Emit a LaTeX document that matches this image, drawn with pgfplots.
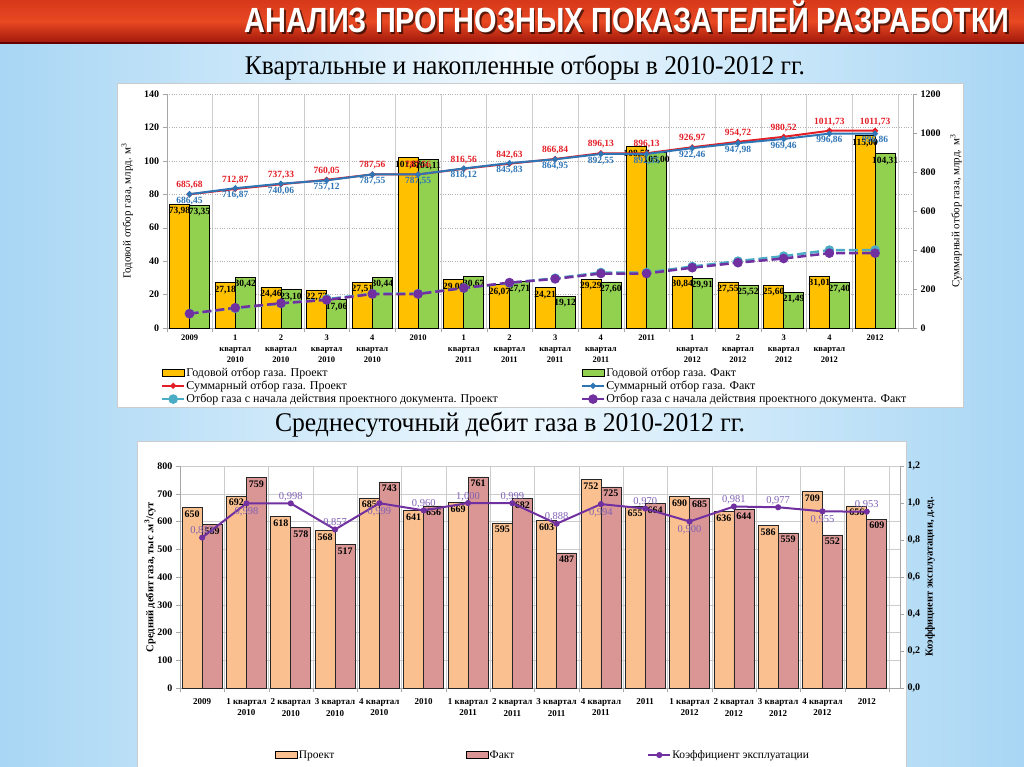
\documentclass[border=0pt]{standalone}
\usepackage{fontspec}
\setmainfont{Liberation Serif}
\newfontfamily\headfont{Liberation Sans}
\usepackage{graphicx}
\usepackage{pgfplots}
\usepackage{pgfplotstable}
\pgfplotsset{compat=1.18}

\definecolor{gyel}{RGB}{255,192,0}
\definecolor{ggrn}{RGB}{146,208,80}
\definecolor{lred}{RGB}{228,30,38}
\definecolor{lblue}{RGB}{46,117,182}
\definecolor{lteal}{RGB}{75,172,198}
\definecolor{lpurp}{RGB}{112,48,160}
\definecolor{kpurp}{RGB}{128,96,180}
\definecolor{bpro}{RGB}{250,192,144}
\definecolor{bfak}{RGB}{217,150,148}
\definecolor{bgblue}{RGB}{168,214,244}
\definecolor{bgmid}{RGB}{238,248,254}

\pgfplotsset{
  /pgf/number format/assume math mode=true,
  /pgf/number format/1000 sep={},
  rectleg/.style={legend image code/.code={\draw[##1] (0pt,-3.5pt) rectangle (22pt,3.5pt);}},
  lineleg/.style={legend image code/.code={\draw[mark repeat=2,mark phase=2,##1] plot coordinates {(0pt,0pt) (11pt,0pt) (22pt,0pt)};}},
  lab2/.style={point meta=y, nodes near coords={\pgfmathprintnumber[fixed,fixed zerofill,precision=2,use comma,1000 sep={}]{\pgfplotspointmeta}}},
  lab0/.style={point meta=y, nodes near coords={\pgfmathprintnumber[fixed,precision=0,1000 sep={}]{\pgfplotspointmeta}}},
  lab3/.style={point meta=y, nodes near coords={\pgfmathprintnumber[fixed,fixed zerofill,precision=3,use comma]{\pgfplotspointmeta}}},
}

% quarterly and cumulative gas
\pgfplotstableread{
x proj fact sump sumf cump cumf
0 73.98 73.35 685.68 686.45 73.98 73.35
1 27.18 30.42 712.87 716.87 101.16 103.77
2 24.46 23.10 737.33 740.06 125.62 126.87
3 22.72 17.06 760.05 757.12 148.34 143.93
4 27.51 30.44 787.56 787.55 175.85 174.37
5 101.87 101.11 787.56 787.55 175.85 174.37
6 29.06 30.67 816.56 818.12 204.91 205.04
7 26.07 27.71 842.63 845.83 230.98 232.75
8 24.21 19.12 866.84 864.95 255.19 251.87
9 29.29 27.60 896.13 892.55 284.48 279.47
10 108.57 105.00 896.13 892.55 284.48 279.47
11 30.84 29.91 926.97 922.46 315.32 309.38
12 27.55 25.52 954.72 947.98 342.87 334.90
13 25.60 21.49 980.52 969.46 368.47 356.39
14 31.01 27.40 1011.73 996.86 399.48 383.79
15 115.00 104.31 1011.73 996.86 399.48 383.79
}\gas

% daily rate
\pgfplotstableread{
x proj fact k
0 650 589 0.813
1 692 759 0.998
2 618 578 0.998
3 568 517 0.857
4 685 743 0.999
5 641 656 0.960
6 669 761 1.000
7 595 682 0.999
8 603 487 0.888
9 752 725 0.994
10 655 664 0.970
11 690 685 0.900
12 636 644 0.981
13 586 559 0.977
14 709 552 0.955
15 656 609 0.953
}\rate

\begin{document}
\begin{tikzpicture}[x=1pt,y=1pt]
\path[use as bounding box] (0,0) rectangle (1024,-767);
% background
\shade[left color=bgblue, right color=bgblue, middle color=bgmid] (0,0) rectangle (1024,-767);
\shade[top color={rgb,255:red,214;green,56;blue,26}, bottom color={rgb,255:red,160;green,24;blue,10}, middle color={rgb,255:red,232;green,72;blue,34}] (0,0) rectangle (1024,-43);
\fill[black!60!red] (0,-42) rectangle (1024,-44);
\node[anchor=base east, inner sep=0, text=black, opacity=0.6] at (1011.5,-34.5) {\resizebox{765pt}{\height}{\headfont\bfseries\fontsize{35}{35}\selectfont АНАЛИЗ ПРОГНОЗНЫХ ПОКАЗАТЕЛЕЙ РАЗРАБОТКИ}};
\node[anchor=base east, inner sep=0, text=white] at (1010,-33) {\resizebox{765pt}{\height}{\headfont\bfseries\fontsize{35}{35}\selectfont АНАЛИЗ ПРОГНОЗНЫХ ПОКАЗАТЕЛЕЙ РАЗРАБОТКИ}};
\node[anchor=base, inner sep=0] at (525,-75) {\resizebox{560pt}{\height}{\fontsize{27}{27}\selectfont Квартальные и накопленные отборы в 2010-2012 гг.}};
\node[anchor=base, inner sep=0] at (510,-431) {\resizebox{470pt}{\height}{\fontsize{27}{27}\selectfont Среднесуточный дебит газа в 2010-2012 гг.}};
% panels
\filldraw[fill=white, draw=gray!40] (117,-83) rectangle (963,-407);
\filldraw[fill=white, draw=gray!40] (137,-441) rectangle (906,-767);

% ---------- chart 1 ----------
\begin{axis}[
  at={(166.7pt,-328pt)}, anchor=south west,
  scale only axis, width=746.3pt, height=234pt,
  xmin=-0.5, xmax=15.83, ymin=0, ymax=140,
  axis x line*=bottom, axis y line*=left,
  axis line style={draw=gray!70,-},
  ytick={0,20,...,140},
  xtick={0,...,15},
  xticklabels={2009,{1\\квартал\\2010},{2\\квартал\\2010},{3\\квартал\\2010},{4\\квартал\\2010},2010,
    {1\\квартал\\2011},{2\\квартал\\2011},{3\\квартал\\2011},{4\\квартал\\2011},2011,
    {1\\квартал\\2012},{2\\квартал\\2012},{3\\квартал\\2012},{4\\квартал\\2012},2012},
  xticklabel style={align=center, anchor=north, font=\fontsize{8.5}{11}\selectfont\bfseries, yshift=-2pt, inner sep=1pt},
  yticklabel style={font=\fontsize{10}{12}\selectfont\bfseries},
  minor xtick={-0.5,0.5,...,15.5},
  major x tick style={draw=none},
  tick style={gray!70},
  tick align=outside, major tick length=4pt, minor tick length=4pt,
  ymajorgrids, xminorgrids,
  major grid style={gray!60, dotted},
  minor grid style={gray!40},
  ylabel={Годовой отбор газа, млрд. м\textsuperscript{3}},
  ylabel style={at={(axis description cs:-0.053,0.5)}, anchor=center, font=\fontsize{11}{13}\selectfont},
  every node near coord/.append style={font=\fontsize{9.5}{11}\selectfont\bfseries, anchor=north, inner sep=1pt, yshift=-2pt, text=black},
]
\addplot[ybar, bar width=20pt, bar shift=-10pt, fill=gyel, draw=black, line width=0.6pt, lab2,
  every node near coord/.append style={xshift=-10pt}] table[x=x,y=proj]{\gas};
\addplot[ybar, bar width=20pt, bar shift=10pt, fill=ggrn, draw=black, line width=0.6pt, lab2,
  every node near coord/.append style={xshift=10pt}] table[x=x,y=fact]{\gas};
\end{axis}

\begin{axis}[
  at={(166.7pt,-328pt)}, anchor=south west,
  scale only axis, width=746.3pt, height=234pt,
  xmin=-0.5, xmax=15.83, ymin=0, ymax=1200,
  axis y line*=right, axis x line=none,
  axis line style={draw=gray!70,-},
  ytick={0,200,...,1200},
  tick style={gray!70}, tick align=outside, major tick length=4pt,
  yticklabel style={font=\fontsize{10}{12}\selectfont\bfseries},
  ylabel={Суммарный отбор газа, млрд. м\textsuperscript{3}},
  ylabel style={at={(axis description cs:1.0576,0.5)}, anchor=center, font=\fontsize{11}{13}\selectfont},
  every node near coord/.append style={font=\fontsize{9.5}{11}\selectfont\bfseries, inner sep=1pt},
  legend columns=2,
  legend cell align=left,
  legend style={at={(axis description cs:-0.012,-0.155)}, anchor=north west, draw=none, fill=none,
    font=\fontsize{12}{13}\selectfont, nodes={inner sep=1pt}, row sep=1.2pt,
    /tikz/every even column/.append style={column sep=82pt}},
]
\addlegendimage{rectleg, fill=gyel, draw=black}
\addlegendentry{Годовой отбор газа. Проект}
\addlegendimage{rectleg, fill=ggrn, draw=black}
\addlegendentry{Годовой отбор газа. Факт}
\addplot[lred, line width=2pt, mark=*, mark size=1.8pt, lineleg, lab2,
  every node near coord/.append style={anchor=south, yshift=3pt, text=lred}] table[x=x,y=sump]{\gas};
\addlegendentry{Суммарный отбор газа. Проект}
\addplot[lblue, line width=2pt, mark=*, mark size=1.8pt, lineleg, lab2,
  every node near coord/.append style={anchor=north, yshift=-1pt, text=lblue}] table[x=x,y=sumf]{\gas};
\addlegendentry{Суммарный отбор газа. Факт}
\addplot[lteal, line width=2.5pt, dash pattern=on 9pt off 4pt, mark=*, mark size=3.5pt, mark options={solid}, lineleg] table[x=x,y=cump]{\gas};
\addlegendentry{Отбор газа с начала действия проектного документа. Проект}
\addplot[lpurp, line width=2.5pt, dash pattern=on 9pt off 4pt, mark=*, mark size=3.5pt, mark options={solid}, lineleg] table[x=x,y=cumf]{\gas};
\addlegendentry{Отбор газа с начала действия проектного документа. Факт}
\end{axis}

% ---------- chart 2 ----------
\begin{axis}[
  at={(180pt,-688pt)}, anchor=south west,
  scale only axis, width=720pt, height=222pt,
  xmin=-0.5, xmax=15.75, ymin=0, ymax=800,
  axis x line*=bottom, axis y line*=left,
  axis line style={draw=gray!70,-},
  ytick={0,100,...,800},
  xtick={0,...,15},
  xticklabels={2009,{1 квартал\\2010},{2 квартал\\2010},{3 квартал\\2010},{4 квартал\\2010},2010,
    {1 квартал\\2011},{2 квартал\\2011},{3 квартал\\2011},{4 квартал\\2011},2011,
    {1 квартал\\2012},{2 квартал\\2012},{3 квартал\\2012},{4 квартал\\2012},2012},
  xticklabel style={align=center, anchor=north, font=\fontsize{9}{11.5}\selectfont\bfseries, yshift=-3pt},
  yticklabel style={font=\fontsize{10}{12}\selectfont\bfseries},
  minor xtick={-0.5,0.5,...,15.5},
  major x tick style={draw=none},
  tick style={gray!70},
  tick align=outside, major tick length=4pt, minor tick length=4pt,
  ymajorgrids, xminorgrids,
  major grid style={gray!40},
  minor grid style={gray!40},
  ylabel={\bfseries Средний дебит газа, тыс .м\textsuperscript{3}/сут},
  ylabel style={at={(axis description cs:-0.0417,0.5)}, anchor=center, font=\fontsize{10.5}{12}\selectfont},
  every node near coord/.append style={font=\fontsize{10}{11}\selectfont\bfseries, anchor=north, inner sep=1pt, yshift=-2pt, text=black},
]
\addplot[ybar, bar width=20pt, bar shift=-10pt, fill=bpro, draw=black!85, line width=0.6pt, lab0,
  every node near coord/.append style={xshift=-10pt}] table[x=x,y=proj]{\rate};
\addplot[ybar, bar width=20pt, bar shift=10pt, fill=bfak, draw=black!85, line width=0.6pt, lab0,
  every node near coord/.append style={xshift=10pt}] table[x=x,y=fact]{\rate};
\end{axis}

\begin{axis}[
  at={(180pt,-688pt)}, anchor=south west,
  scale only axis, width=720pt, height=222pt,
  xmin=-0.5, xmax=15.75, ymin=0, ymax=1.2,
  axis y line*=right, axis x line=none,
  axis line style={draw=gray!70,-},
  ytick={0,0.2,0.4,0.6,0.8,1.0,1.2},
  yticklabel={\pgfmathprintnumber[fixed,fixed zerofill,precision=1,use comma]{\tick}},
  tick style={gray!70}, tick align=outside, major tick length=4pt,
  yticklabel style={font=\fontsize{10}{12}\selectfont\bfseries},
  ylabel={\bfseries Коэффициент эксплуатации, д.ед.},
  ylabel style={at={(axis description cs:1.0417,0.5)}, anchor=center, font=\fontsize{10.5}{12}\selectfont},
  every node near coord/.append style={font=\fontsize{10.5}{12}\selectfont, inner sep=1pt, text=kpurp},
  legend columns=3,
  legend cell align=left,
  legend style={at={(axis description cs:0.128,-0.302)}, anchor=west, draw=none, fill=none,
    font=\fontsize{11.5}{13}\selectfont, nodes={inner sep=1pt},
    /tikz/column 2/.style={column sep=131pt}, /tikz/column 4/.style={column sep=132pt}},
]
\addlegendimage{rectleg, fill=bpro, draw=black}
\addlegendentry{Проект}
\addlegendimage{rectleg, fill=bfak, draw=black}
\addlegendentry{Факт}
\addplot[lpurp, line width=2pt, mark=*, mark size=2pt, lineleg] table[x=x,y=k]{\rate};
\addlegendentry{Коэффициент эксплуатации}
% value labels above and below the points
\addplot[draw=none, mark=none, forget plot, lab3, every node near coord/.append style={anchor=south, yshift=1pt}]
  coordinates {(0,0.813) (2,0.998) (3,0.857) (5,0.960) (6,1.000) (7,0.999) (8,0.888) (10,0.970) (12,0.981) (13,0.977) (15,0.953)};
\addplot[draw=none, mark=none, forget plot, lab3, every node near coord/.append style={anchor=north, yshift=-3pt}]
  coordinates {(1,0.998) (4,0.999) (9,0.994) (11,0.900) (14,0.955)};
\end{axis}
\end{tikzpicture}
\end{document}
